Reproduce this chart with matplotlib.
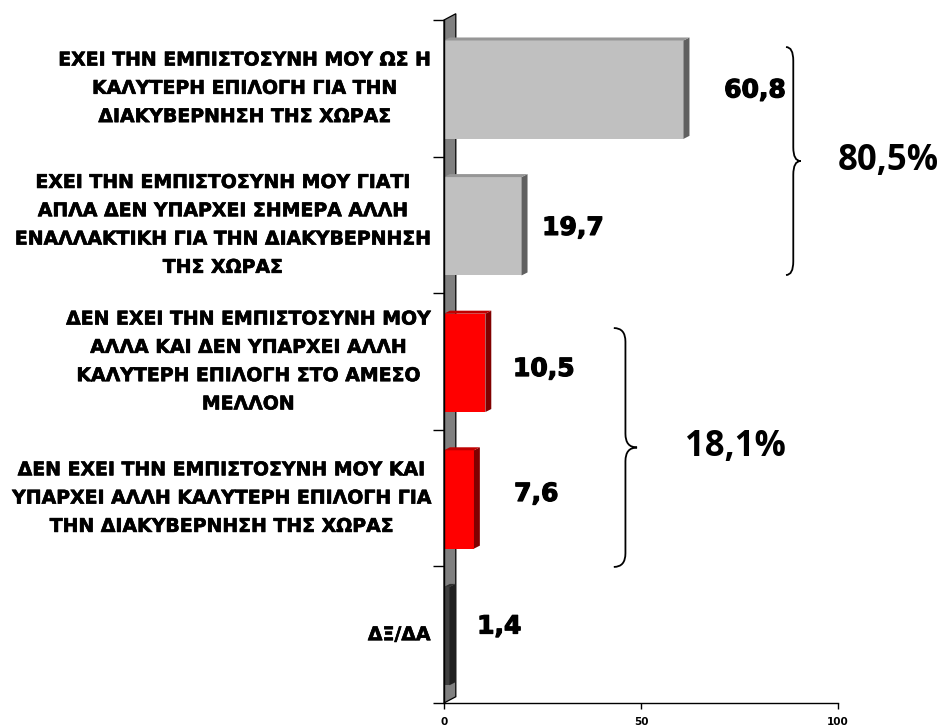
import matplotlib
matplotlib.use("Agg")
import matplotlib.pyplot as plt
from matplotlib.patches import Polygon, PathPatch
from matplotlib.path import Path
import matplotlib.patheffects as pe

categories = [
    "ΕΧΕΙ ΤΗΝ ΕΜΠΙΣΤΟΣΥΝΗ ΜΟΥ ΩΣ Η\nΚΑΛΥΤΕΡΗ ΕΠΙΛΟΓΗ ΓΙΑ ΤΗΝ\nΔΙΑΚΥΒΕΡΝΗΣΗ ΤΗΣ ΧΩΡΑΣ",
    "ΕΧΕΙ ΤΗΝ ΕΜΠΙΣΤΟΣΥΝΗ ΜΟΥ ΓΙΑΤΙ\nΑΠΛΑ ΔΕΝ ΥΠΑΡΧΕΙ ΣΗΜΕΡΑ ΑΛΛΗ\nΕΝΑΛΛΑΚΤΙΚΗ ΓΙΑ ΤΗΝ ΔΙΑΚΥΒΕΡΝΗΣΗ\nΤΗΣ ΧΩΡΑΣ",
    "ΔΕΝ ΕΧΕΙ ΤΗΝ ΕΜΠΙΣΤΟΣΥΝΗ ΜΟΥ\nΑΛΛΑ ΚΑΙ ΔΕΝ ΥΠΑΡΧΕΙ ΑΛΛΗ\nΚΑΛΥΤΕΡΗ ΕΠΙΛΟΓΗ ΣΤΟ ΑΜΕΣΟ\nΜΕΛΛΟΝ",
    "ΔΕΝ ΕΧΕΙ ΤΗΝ ΕΜΠΙΣΤΟΣΥΝΗ ΜΟΥ ΚΑΙ\nΥΠΑΡΧΕΙ ΑΛΛΗ ΚΑΛΥΤΕΡΗ ΕΠΙΛΟΓΗ ΓΙΑ\nΤΗΝ ΔΙΑΚΥΒΕΡΝΗΣΗ ΤΗΣ ΧΩΡΑΣ",
    "ΔΞ/ΔΑ",
]
values = [60.8, 19.7, 10.5, 7.6, 1.4]
value_labels = ["60,8", "19,7", "10,5", "7,6", "1,4"]
group_labels = ["80,5%", "18,1%"]
group_ranges = [(0, 1), (2, 3)]
xticks = [0, 50, 100]

# styling / layout
front_colors = ["#C0C0C0", "#C0C0C0", "#FF0000", "#FF0000", "#404040"]
side_colors = ["#606060", "#606060", "#800000", "#800000", "#202020"]
top_colors = ["#969696", "#969696", "#C00000", "#C00000", "#303030"]
label_x = [71.1, 24.9, 17.5, 17.8, 8.4]
label_dy = [0.015, 0.022, 0.055, -0.03, -0.06]
brace_x = [(86.8, 90.5), (43.1, 49.0)]
brace_y = [(-0.302, 1.367), (1.755, 3.504)]
group_text_x = [112.7, 73.9]

fig = plt.figure(figsize=(9.45, 7.28), dpi=100)
ax = fig.add_axes([444 / 945, 25 / 728, 394 / 945, 683 / 728])
ax.set_xlim(0, 100)
ax.set_ylim(4.5, -0.5)

# wall
wdx, wdy = 3.0, 0.046
wall = Polygon([(0, -0.5), (wdx, -0.5 - wdy), (wdx, 4.5 - wdy), (0, 4.5)],
               closed=True, facecolor="#808080", edgecolor="black", lw=0.9,
               clip_on=False, zorder=1)
ax.add_patch(wall)

bold_val = [pe.withStroke(linewidth=0.9, foreground="black")]
bold_cat = [pe.withStroke(linewidth=0.45, foreground="black")]

h = 0.72
dx, dy = 1.5, 0.022
for i, v in enumerate(values):
    y0 = i - h / 2 + 0.01
    y1 = i + h / 2 + 0.01
    ax.barh(i + 0.01, v, height=h, color=front_colors[i], edgecolor="none", zorder=3)
    side = Polygon([(v, y0), (v + dx, y0 - dy), (v + dx, y1 - dy), (v, y1)],
                   closed=True, facecolor=side_colors[i], edgecolor="none", zorder=3)
    top = Polygon([(0, y0), (dx, y0 - dy), (v + dx, y0 - dy), (v, y0)],
                  closed=True, facecolor=top_colors[i], edgecolor="none", zorder=3)
    ax.add_patch(side)
    ax.add_patch(top)
    ax.text(label_x[i], i + label_dy[i], value_labels[i], ha="left", va="center",
            fontsize=18, fontweight="bold", family="DejaVu Sans", zorder=5,
            path_effects=bold_val)
    ax.text(-3.4, i, categories[i], ha="right", va="center", multialignment="center",
            fontsize=13.6, fontweight="bold", family="DejaVu Sans", linespacing=1.62,
            clip_on=False, path_effects=bold_cat)


def brace(x0, x1, ya, yb):
    xm = (x0 + x1) / 2
    ym = (ya + yb) / 2
    hk = 0.1
    verts = [(x0, ya), (xm, ya), (xm, ya + hk),
             (xm, ym - hk),
             (xm, ym), (x1, ym),
             (xm, ym), (xm, ym + hk),
             (xm, yb - hk),
             (xm, yb), (x0, yb)]
    codes = [Path.MOVETO, Path.CURVE3, Path.CURVE3,
             Path.LINETO,
             Path.CURVE3, Path.CURVE3,
             Path.CURVE3, Path.CURVE3,
             Path.LINETO,
             Path.CURVE3, Path.CURVE3]
    return PathPatch(Path(verts, codes), facecolor="none", edgecolor="black",
                     lw=1.3, clip_on=False, zorder=4)


for k, (a, b) in enumerate(group_ranges):
    ya, yb = brace_y[k]
    ax.add_patch(brace(brace_x[k][0], brace_x[k][1], ya, yb))
    ax.text(group_text_x[k], (ya + yb) / 2, group_labels[k], ha="center", va="center",
            fontsize=25, fontweight="bold", family="Open Sans", clip_on=False)

for s in ["top", "right"]:
    ax.spines[s].set_visible(False)
ax.spines["left"].set_linewidth(1.0)
ax.spines["bottom"].set_linewidth(1.0)
ax.spines["left"].set_zorder(6)

ax.set_yticks([-0.5, 0.5, 1.5, 2.5, 3.5, 4.5])
ax.set_yticklabels([])
ax.tick_params(axis="y", length=8, width=1.0, direction="out")
ax.set_xticks(xticks)
ax.set_xticklabels([str(t) for t in xticks], fontsize=7.5, fontweight="bold")
ax.tick_params(axis="x", length=4, width=1.0, direction="out", pad=6)

fig.savefig("out.png", dpi=100)
